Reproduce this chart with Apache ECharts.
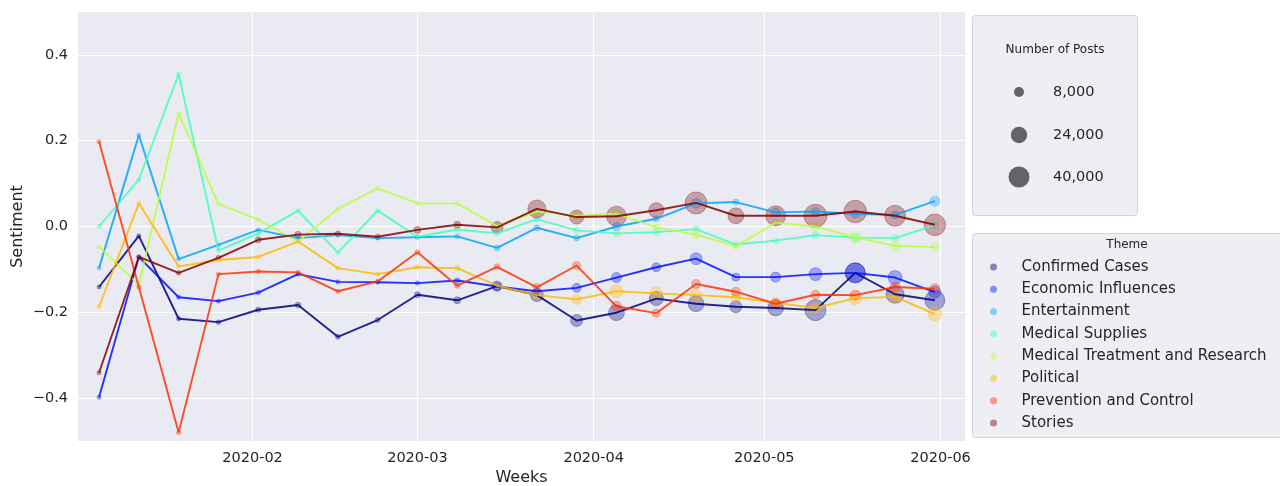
<!DOCTYPE html>
<html>
<head>
<meta charset="utf-8">
<script src="https://cdn.jsdelivr.net/npm/echarts@6/dist/echarts.min.js"></script>
<style>
  html, body { margin: 0; padding: 0; background: #ffffff; }
  #chart { width: 1280px; height: 486px; }
</style>
</head>
<body>
<div id="chart"></div>
<script>
// Weekly sentiment per theme, with marker size showing the number of posts.
const weeks = [
  '2020-01-05', '2020-01-12', '2020-01-19', '2020-01-26', '2020-02-02', '2020-02-09',
  '2020-02-16', '2020-02-23', '2020-03-01', '2020-03-08', '2020-03-15', '2020-03-22',
  '2020-03-29', '2020-04-05', '2020-04-12', '2020-04-19', '2020-04-26', '2020-05-03',
  '2020-05-10', '2020-05-17', '2020-05-24', '2020-05-31'
];

const themes = [
  'Confirmed Cases', 'Economic Influences', 'Entertainment', 'Medical Supplies',
  'Medical Treatment and Research', 'Political', 'Prevention and Control', 'Stories'
];

// jet palette, 8 steps
const themeColors = [
  '#000080', '#0012ff', '#00a4ff', '#41ffb6', '#b6ff41', '#ffb900', '#ff3200', '#800000'
];

const sentConfirmed   = [-0.141, -0.022, -0.215, -0.223, -0.194, -0.183, -0.257, -0.218, -0.159, -0.172, -0.139, -0.160, -0.219, -0.201, -0.168, -0.180, -0.187, -0.190, -0.195, -0.108, -0.158, -0.172];
const sentEconomic    = [-0.398, -0.071, -0.165, -0.174, -0.154, -0.111, -0.129, -0.130, -0.132, -0.126, -0.140, -0.151, -0.143, -0.119, -0.095, -0.075, -0.118, -0.118, -0.111, -0.108, -0.119, -0.153];
const sentEntertain   = [-0.097, 0.213, -0.076, -0.043, -0.008, -0.027, -0.020, -0.027, -0.025, -0.023, -0.050, -0.003, -0.027, 0.000, 0.018, 0.054, 0.057, 0.033, 0.035, 0.029, 0.027, 0.059];
const sentSupplies    = [0.000, 0.109, 0.355, -0.056, -0.016, 0.037, -0.061, 0.037, -0.024, -0.007, -0.016, 0.017, -0.009, -0.016, -0.013, -0.006, -0.042, -0.033, -0.020, -0.026, -0.027, 0.003];
const sentTreatment   = [-0.047, -0.136, 0.264, 0.053, 0.016, -0.035, 0.041, 0.089, 0.054, 0.054, 0.001, 0.035, 0.025, 0.030, -0.002, -0.019, -0.046, 0.009, 0.000, -0.025, -0.045, -0.048];
const sentPolitical   = [-0.187, 0.054, -0.093, -0.078, -0.071, -0.035, -0.097, -0.111, -0.095, -0.097, -0.138, -0.160, -0.170, -0.151, -0.156, -0.160, -0.165, -0.178, -0.190, -0.167, -0.164, -0.204];
const sentPrevention  = [0.198, -0.141, -0.480, -0.111, -0.105, -0.107, -0.151, -0.128, -0.060, -0.138, -0.094, -0.142, -0.091, -0.186, -0.202, -0.134, -0.152, -0.180, -0.159, -0.160, -0.141, -0.145];
const sentStories     = [-0.341, -0.071, -0.108, -0.073, -0.031, -0.019, -0.017, -0.024, -0.008, 0.004, -0.002, 0.041, 0.022, 0.024, 0.038, 0.055, 0.025, 0.025, 0.025, 0.035, 0.025, 0.004];

const postsConfirmed  = [200, 300, 400, 600, 1000, 1500, 800, 800, 2000, 3000, 8000, 14000, 12000, 22000, 17000, 22000, 12000, 22000, 40000, 36000, 29000, 36000];
const postsEconomic   = [150, 200, 300, 300, 500, 500, 300, 300, 500, 1000, 4600, 2000, 6200, 8000, 6200, 12000, 4600, 8000, 14000, 36000, 17000, 12000];
const postsEntertain  = [100, 200, 200, 200, 300, 300, 300, 300, 500, 800, 2000, 2000, 2000, 4600, 2000, 8000, 2000, 6200, 4600, 4600, 4600, 8000];
const postsSupplies   = [100, 200, 300, 200, 300, 300, 300, 300, 600, 800, 1500, 2000, 2000, 3200, 2500, 2500, 2000, 2000, 3200, 4600, 3200, 3200];
const postsTreatment  = [100, 200, 300, 200, 300, 300, 300, 300, 600, 1000, 2000, 2500, 3200, 4600, 3200, 4600, 2500, 3200, 4600, 12000, 8000, 6200];
const postsPolitical  = [100, 200, 300, 300, 300, 300, 300, 300, 1000, 1500, 2000, 8000, 8000, 14000, 14000, 12000, 8000, 8000, 8000, 14000, 14000, 17000];
const postsPrevention = [200, 300, 400, 400, 400, 400, 400, 400, 1000, 1200, 2000, 4600, 4600, 8000, 4600, 6200, 6200, 8000, 6200, 8000, 8000, 8000];
const postsStories    = [300, 400, 500, 1000, 2000, 2600, 1500, 1200, 3000, 3200, 12000, 29000, 17000, 36000, 20000, 44000, 22000, 36000, 48000, 46000, 40000, 42000];

const sentimentByTheme = [sentConfirmed, sentEconomic, sentEntertain, sentSupplies, sentTreatment, sentPolitical, sentPrevention, sentStories];
const postsByTheme = [postsConfirmed, postsEconomic, postsEntertain, postsSupplies, postsTreatment, postsPolitical, postsPrevention, postsStories];

const sizeLegendValues = [8000, 24000, 40000];
const monthTicks = ['2020-02-01', '2020-03-01', '2020-04-01', '2020-05-01', '2020-06-01'];
const yTicks = [-0.4, -0.2, 0.0, 0.2, 0.4];

// Marker area grows linearly with the post count (diameter in px).
function markerSize(n) {
  const n0 = 8000, d0 = 10, n1 = 40000, d1 = 21;
  const area = d0 * d0 + (n - n0) * (d1 * d1 - d0 * d0) / (n1 - n0);
  return Math.sqrt(Math.max(area, 9));
}

const DAY = 86400000;
const xMin = Date.parse('2020-01-01') + 0.3 * DAY;
const xMax = Date.parse('2020-06-05') + 0.3 * DAY;

const FONT = 'DejaVu Sans';
const INK = '#262626';
const fmtTick = v => (v < 0 ? '\u2212' : '') + Math.abs(v).toFixed(1);

const series = [];
themes.forEach((name, i) => {
  series.push({
    name, type: 'scatter', z: 2,
    data: weeks.map((w, k) => [Date.parse(w), sentimentByTheme[i][k], postsByTheme[i][k]]),
    symbolSize: d => markerSize(d[2]),
    itemStyle: { color: themeColors[i], opacity: 0.32, borderColor: themeColors[i], borderWidth: 1 },
    emphasis: { disabled: true }
  });
});
themes.forEach((name, i) => {
  series.push({
    name, type: 'line', z: 3,
    data: weeks.map((w, k) => [Date.parse(w), sentimentByTheme[i][k]]),
    showSymbol: false,
    lineStyle: { color: themeColors[i], width: 1.9, opacity: 0.85 },
    itemStyle: { color: themeColors[i] },
    emphasis: { disabled: true }
  });
});

const graphics = [
  { type: 'rect', z: 1, shape: { x: 972.5, y: 15.5, width: 165, height: 200, r: 3 },
    style: { fill: '#eeeef4', stroke: '#d4d4d8', lineWidth: 1 } },
  { type: 'text', z: 5, style: { x: 1055, y: 50, text: 'Number of Posts', font: '12px "DejaVu Sans"', fill: INK, align: 'center', verticalAlign: 'middle' } },
  { type: 'rect', z: 1, shape: { x: 972.5, y: 233.5, width: 330, height: 204, r: 3 },
    style: { fill: '#eeeef4', stroke: '#d4d4d8', lineWidth: 1 } },
  { type: 'text', z: 5, style: { x: 1127, y: 245, text: 'Theme', font: '12px "DejaVu Sans"', fill: INK, align: 'center', verticalAlign: 'middle' } }
];
const sizeRowsY = [92, 135, 177];
sizeLegendValues.forEach((v, j) => {
  graphics.push({ type: 'circle', z: 5, shape: { cx: 1019, cy: sizeRowsY[j], r: markerSize(v) / 2 },
    style: { fill: 'rgba(60,60,64,0.78)' } });
  graphics.push({ type: 'text', z: 5, style: { x: 1053, y: sizeRowsY[j], text: v.toLocaleString('en-US'),
    font: '14.5px "DejaVu Sans"', fill: INK, align: 'left', verticalAlign: 'middle' } });
});

const option = {
  animation: false,
  backgroundColor: '#ffffff',
  textStyle: { fontFamily: FONT },
  grid: { left: 78, right: 315, top: 12, bottom: 45, outerBoundsMode: 'none',
          show: true, backgroundColor: '#eaeaf2', borderWidth: 0 },
  xAxis: {
    type: 'value', min: xMin, max: xMax,
    name: 'Weeks', nameLocation: 'middle', nameGap: 29, nameMoveOverlap: false,
    nameTextStyle: { fontSize: 16, color: INK, fontFamily: FONT },
    axisLine: { show: false },
    axisTick: { show: false, customValues: monthTicks.map(m => Date.parse(m)) },
    splitLine: { show: true, lineStyle: { color: '#ffffff', width: 1.2 } },
    axisLabel: {
      customValues: monthTicks.map(m => Date.parse(m)),
      formatter: v => monthTicks.find(m => Date.parse(m) === v).slice(0, 7),
      fontSize: 14.5, color: INK, fontFamily: FONT, margin: 10
    }
  },
  yAxis: {
    type: 'value', min: -0.5, max: 0.5,
    name: 'Sentiment', nameLocation: 'middle', nameGap: 52, nameMoveOverlap: false,
    nameTextStyle: { fontSize: 16, color: INK, fontFamily: FONT },
    axisLine: { show: false },
    axisTick: { show: false, customValues: yTicks },
    splitLine: { show: true, lineStyle: { color: '#ffffff', width: 1.2 } },
    axisLabel: { customValues: yTicks, formatter: fmtTick, fontSize: 14.5, color: INK, fontFamily: FONT, margin: 10 }
  },
  legend: {
    orient: 'vertical', left: 990, top: 258, padding: 0,
    itemWidth: 8, itemHeight: 7, itemGap: 4.3,
    selectedMode: false,
    textStyle: { fontSize: 15, color: INK, fontFamily: FONT, lineHeight: 18, padding: [0, 0, 0, 19] },
    data: themes.map((t, i) => ({ name: t, icon: 'circle', itemStyle: { color: themeColors[i], opacity: 0.45, borderWidth: 0 } })),
    z: 6
  },
  graphic: graphics,
  series
};

echarts.init(document.getElementById('chart'), null, { renderer: 'canvas' }).setOption(option);
</script>
</body>
</html>
